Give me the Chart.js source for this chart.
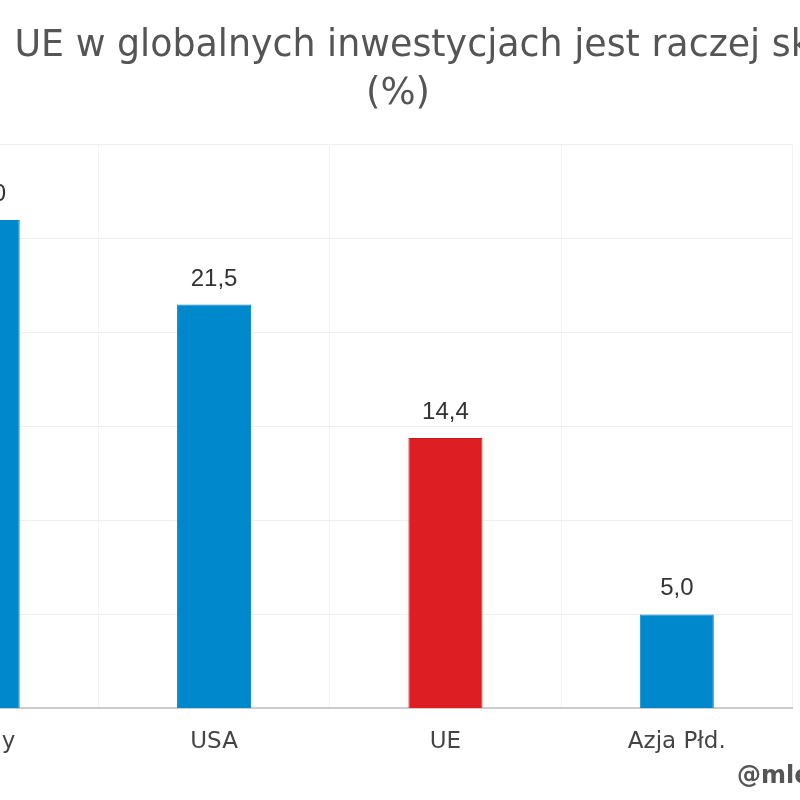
<!DOCTYPE html>
<html>
<head>
<meta charset="utf-8">
<script src="https://cdn.jsdelivr.net/npm/chart.js@4.4.0/dist/chart.umd.min.js"></script>
<style>
  html, body { margin: 0; padding: 0; background: #fff; overflow: hidden; }
  #wrap { position: relative; width: 800px; height: 800px; overflow: hidden; }
  #chart { position: absolute; left: -150px; top: 0; }
</style>
</head>
<body>
<div id="wrap"><canvas id="chart" width="1096" height="800"></canvas></div>
<script>
// dane
const categories = ["Chiny", "USA", "UE", "Azja Płd."];
const shares = [26.0, 21.5, 14.4, 5.0];
const barColors = ["#0088cc", "#0088cc", "#dd1e22", "#0088cc"];
const borderColors = ["#0088cc", "#0088cc", "#cc1a1e", "#0088cc"];
const yTicks = [0, 5, 10, 15, 20, 25, 30];
const titleLines = ["Pozycja UE w globalnych inwestycjach jest raczej skromna", "(%)"];
const watermark = "@mlewandowski";

// etykiety wartości nad słupkami
const valueLabels = {
  id: "valueLabels",
  afterDatasetsDraw(chart) {
    const ctx = chart.ctx;
    const meta = chart.getDatasetMeta(0);
    ctx.save();
    ctx.font = "24px 'Liberation Sans', Arial, sans-serif";
    ctx.fillStyle = "#333";
    ctx.textAlign = "center";
    ctx.textBaseline = "alphabetic";
    meta.data.forEach((bar, i) => {
      const txt = shares[i].toFixed(1).replace(".", ",");
      ctx.fillText(txt, bar.x, bar.y - 19);
    });
    ctx.restore();
  }
};

// podpis w rogu
const signature = {
  id: "signature",
  afterDraw(chart) {
    const ctx = chart.ctx;
    ctx.save();
    ctx.font = "bold 24px 'DejaVu Sans', sans-serif";
    ctx.fillStyle = "#555";
    ctx.textAlign = "left";
    ctx.textBaseline = "alphabetic";
    ctx.fillText(watermark, 887, 783);
    ctx.restore();
  }
};

new Chart(document.getElementById("chart").getContext("2d"), {
  type: "bar",
  data: {
    labels: categories,
    datasets: [{
      data: shares,
      backgroundColor: barColors,
      borderColor: borderColors,
      borderWidth: 1,
      barPercentage: 0.32,
      categoryPercentage: 1
    }]
  },
  options: {
    responsive: false,
    animation: false,
    devicePixelRatio: 1,
    layout: { padding: { left: 17, right: 17, top: 22, bottom: 24 } },
    plugins: {
      legend: { display: false },
      tooltip: { enabled: false },
      title: {
        display: true,
        text: titleLines,
        color: "#555",
        font: { family: "'DejaVu Sans', sans-serif", size: 37, weight: "normal", lineHeight: 1.31 },
        padding: { top: 0, bottom: 26 }
      }
    },
    scales: {
      x: {
        grid: { color: "#f2f2f2", drawTicks: false, offset: true },
        border: { color: "#cccccc", width: 2 },
        ticks: {
          color: "#444",
          padding: 20,
          font: { family: "'DejaVu Sans', sans-serif", size: 23 }
        }
      },
      y: {
        min: 0,
        max: 30,
        afterBuildTicks(axis) { axis.ticks = yTicks.map(v => ({ value: v })); },
        grid: { color: "#eeeeee", drawTicks: false },
        border: { display: false },
        ticks: { display: false }
      },
      // pusta oś po prawej – tylko zajmuje miejsce
      yRight: {
        position: "right",
        display: true,
        grid: { display: false },
        border: { display: false },
        ticks: { display: false },
        afterFit(axis) { axis.width = 136.5; }
      }
    }
  },
  plugins: [valueLabels, signature]
});
</script>
</body>
</html>
